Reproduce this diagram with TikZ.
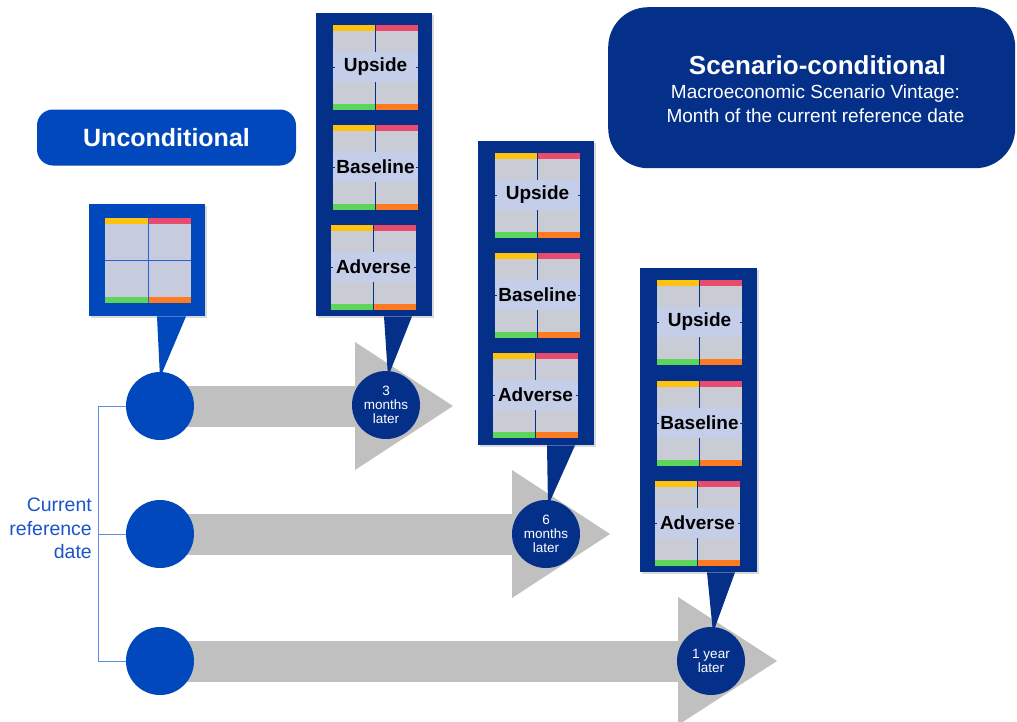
\documentclass[tikz,border=0pt]{standalone}
\usepackage{fontspec}
\setmainfont{Liberation Sans}
\usetikzlibrary{shadows,calc}
\definecolor{bblue}{HTML}{0048BC}
\definecolor{navy}{HTML}{04308A}
\definecolor{agray}{HTML}{C0C0C0}
\definecolor{cellg}{HTML}{C9CBD5}
\definecolor{ucell}{HTML}{C6CBDD}
\definecolor{ugrid}{HTML}{2F5FD0}
\definecolor{bandb}{HTML}{C5CEE8}
\definecolor{syel}{HTML}{FFC20E}
\definecolor{spink}{HTML}{E94B6E}
\definecolor{sgreen}{HTML}{5DD45A}
\definecolor{sorange}{HTML}{FF7B22}
\definecolor{brline}{HTML}{5B8DE6}
\definecolor{brtext}{HTML}{1A55C8}
\tikzset{
  bigdot/.style={circle, fill=bblue, minimum size=68pt, inner sep=0pt},
  smalldot/.style={circle, fill=navy, minimum size=68pt, inner sep=0pt, text=white, align=center, font=\fontsize{13.5}{14}\selectfont},
  framebox/.style={fill=navy, anchor=north west, inner sep=0pt, drop shadow={opacity=0.3, shadow xshift=2pt, shadow yshift=-2pt}},
  panellabel/.style={inner sep=0pt, font=\bfseries\fontsize{19}{22}\selectfont, text=black},
  pointer/.style={fill=navy},
  bracket/.style={draw=brline, line width=1pt},
  arrowbody/.style={fill=agray}
}
\newcommand{\scenpanel}[3]{%
  \begin{scope}[shift={(#1,#2)}]
   \fill[cellg] (0,6) rectangle (85,79);
   \fill[bandb] (0,27) rectangle (85,57);
   \fill[syel] (0,0) rectangle (42,6);
   \fill[spink] (43,0) rectangle (85,6);
   \fill[sgreen] (0,79) rectangle (42,85);
   \fill[sorange] (43,79) rectangle (85,85);
   \draw[navy,line width=1pt] (42.5,0) -- (42.5,27) (42.5,57) -- (42.5,85);
   \draw[navy,line width=1pt] (0,42) -- (2,42) (83,42) -- (85,42);
   \node[panellabel] at (42.5,42) {#3};
  \end{scope}}
\begin{document}
\begin{tikzpicture}[x=1pt,y=-1pt]
\useasboundingbox (0,0) rectangle (1017,721);
% gray arrows
\fill[arrowbody] (160,386) rectangle (356,427);
\fill[arrowbody] (355,342) -- (453,406) -- (355,470) -- cycle;
\fill[arrowbody] (160,514) rectangle (513,555);
\fill[arrowbody] (512,470) -- (610,534) -- (512,598) -- cycle;
\fill[arrowbody] (160,641) rectangle (679,682);
\fill[arrowbody] (678,597) -- (777,661) -- (678,725) -- cycle;
% start circles
\node[bigdot] (c1) at (160,406) {};
\node[bigdot] (c2) at (160,534) {};
\node[bigdot] (c3) at (160,661) {};
% bracket
\draw[bracket] (c1.west) -- ++(-27,0) |- (c3.west);
\draw[bracket] (c2.west) -- ++(-27,0);
\node[anchor=east, align=right, inner sep=0pt, text=brtext, font=\fontsize{19.5}{23.5}\selectfont] (crd) at (92,528.5) {Current\\reference\\date};
% later circles
\node[smalldot] (m1) at (386,405) {3\\months\\later};
\node[smalldot] (m2) at (546,534) {6\\months\\later};
\node[smalldot] (m3) at (711,661) {1 year\\later};
% unconditional pill
\node[fill=bblue, rounded corners=16pt, minimum width=259pt, minimum height=56pt, inner sep=0pt, text=white, font=\bfseries\fontsize{25}{28}\selectfont] (uncond) at (166.5,137.5) {Unconditional};
% scenario-conditional box
\node[fill=navy, rounded corners=40pt, minimum width=407pt, minimum height=161pt, anchor=north west, inner sep=0pt] (scen) at (608,7) {};
\node[anchor=base, inner sep=0pt, text=white, font=\bfseries\fontsize{26}{30}\selectfont] (scent) at (817.5,74) {Scenario-conditional};
\node[anchor=base, inner sep=0pt, text=white, font=\fontsize{19}{23}\selectfont] (scen1) at (815.5,98) {Macroeconomic Scenario Vintage:};
\node[anchor=base, inner sep=0pt, text=white, font=\fontsize{19}{23}\selectfont] (scen2) at (815.5,122) {Month of the current reference date};
% unconditional callout
\node[framebox, fill=bblue, minimum width=116pt, minimum height=112pt] (f0) at (89,204) {};
\fill[bblue] ($(f0.south west)+(68,0)$) -- ($(f0.south west)+(97,0)$) -- ($(c1.north)+(0,6)$) -- cycle;
\begin{scope}[shift={(105,218)}]
  \fill[ucell] (0,6) rectangle (86,79);
  \fill[syel] (0,0) rectangle (43,6);
  \fill[spink] (43,0) rectangle (86,6);
  \fill[sgreen] (0,79) rectangle (43,85);
  \fill[sorange] (43,79) rectangle (86,85);
  \draw[ugrid, line width=1pt] (43,0) -- (43,85) (0,42.5) -- (86,42.5);
\end{scope}
% scenario frames
\node[framebox, minimum width=116pt, minimum height=303pt] (f1) at (316,13) {};
\node[framebox, minimum width=116pt, minimum height=304pt] (f2) at (478,141) {};
\node[framebox, minimum width=117pt, minimum height=304pt] (f3) at (640,268) {};
\fill[pointer] ($(f1.south west)+(68,0)$) -- ($(f1.south west)+(96,0)$) -- ($(m1.north)+(2,6)$) -- cycle;
\fill[pointer] ($(f2.south west)+(69,0)$) -- ($(f2.south west)+(97,0)$) -- ($(m2.north)+(2,6)$) -- cycle;
\fill[pointer] ($(f3.south west)+(67,0)$) -- ($(f3.south west)+(95,0)$) -- ($(m3.north)+(2,6)$) -- cycle;
\scenpanel{333}{25}{Upside}
\scenpanel{333}{125}{Baseline}
\scenpanel{331}{225}{Adverse}
\scenpanel{495}{153}{Upside}
\scenpanel{495}{253}{Baseline}
\scenpanel{493}{353}{Adverse}
\scenpanel{657}{280}{Upside}
\scenpanel{657}{381}{Baseline}
\scenpanel{655}{481}{Adverse}
\end{tikzpicture}
\end{document}
